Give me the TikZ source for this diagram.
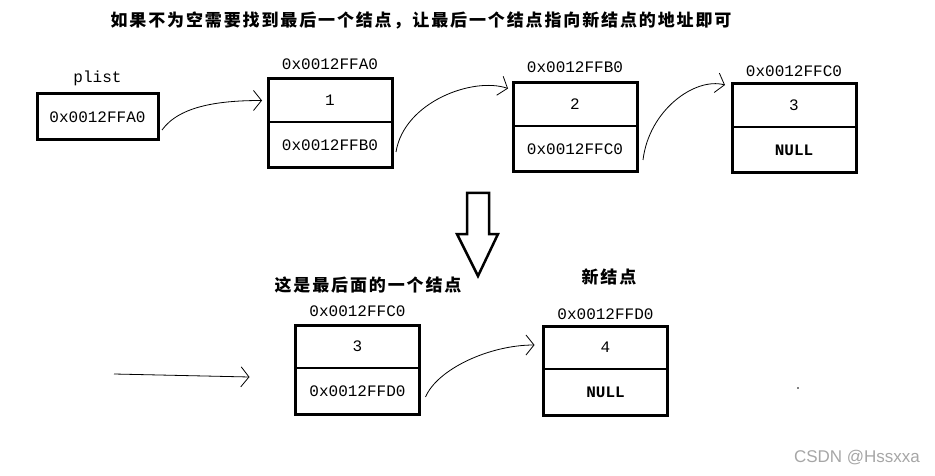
\documentclass[tikz,border=0pt]{standalone}
\usepackage{fontspec}
\setmonofont{Liberation Mono}
\newfontfamily\cjk[LetterSpace=11]{Noto Sans CJK SC}
\newfontfamily\wmfont{Liberation Sans}
\usetikzlibrary{arrows.meta, positioning}

\begin{document}
\begin{tikzpicture}[x=1pt, y=-1pt,
		>={Straight Barb[length=8pt,width=20pt]}, % Pfeilspitzen
		zelle/.style={draw, line width=1.6pt, minimum width=124pt, inner sep=0pt, outer sep=0pt, font=\ttfamily\fontsize{16}{18}\selectfont},
		wert/.style={zelle, minimum height=43pt},
		zeiger/.style={zelle, minimum height=46pt},
		rahmen/.style={line width=3pt},
		adresse/.style={inner sep=1pt, font=\ttfamily\fontsize{16}{18}\selectfont},
		titel/.style={font=\cjk\bfseries\fontsize{17}{20}\selectfont},
		pfeil/.style={->, line width=0.8pt}]
	\useasboundingbox (0,0) rectangle (935,476);
	% Ueberschriften
	\node[titel] (titel) at (421,20) {如果不为空需要找到最后一个结点，让最后一个结点指向新结点的地址即可};
	\node[titel] (hinweis) at (368,285) {这是最后面的一个结点};
	\node[titel] (neu) at (609,277) {新结点};
	% Kopfzeiger
	\node[zelle, line width=3pt, minimum width=121pt, minimum height=46pt] (plist) at (97.5,117) {0x0012FFA0};
	\node[adresse, above=7pt of plist] (pname) {plist};
	% Obere Liste
	\node[wert] (w1) at (330,100.5) {1};
	\node[zeiger, below=0pt of w1] (z1) {0x0012FFB0};
	\node[wert] (w2) at (575,104.5) {2};
	\node[zeiger, below=0pt of w2] (z2) {0x0012FFC0};
	\node[wert] (w3) at (794,105.5) {3};
	\node[zeiger, below=0pt of w3] (z3) {\bfseries NULL};
	\node[adresse, above=8pt of w1] (a1) {0x0012FFA0};
	\node[adresse, above=9pt of w2] (a2) {0x0012FFB0};
	\node[adresse, above=6.5pt of w3] (a3) {0x0012FFC0};
	% Untere Liste: letzter und neuer Knoten
	\node[wert] (w4) at (357.5,346.5) {3};
	\node[zeiger, below=0pt of w4] (z4) {0x0012FFD0};
	\node[wert] (w5) at (605.5,347.5) {4};
	\node[zeiger, below=0pt of w5] (z5) {\bfseries NULL};
	\node[adresse, above=7.5pt of w4] (a4) {0x0012FFC0};
	\node[adresse, above=5.5pt of w5] (a5) {0x0012FFD0};
	% Rahmen
	\foreach \k in {1,...,5}
		\draw[rahmen] (w\k.north west) rectangle (z\k.south east);
	% Verbindungen
	\draw[pfeil] ([xshift=4pt,yshift=-13pt]plist.east) .. controls +(18,-25) and +(-40,0) .. ([xshift=-6pt]w1.west);
	\draw[pfeil] ([xshift=4pt,yshift=-7pt]z1.east) .. controls +(8,-50) and +(-35,-12) .. ([xshift=-5pt,yshift=16pt]w2.west);
	\draw[pfeil] ([xshift=6pt,yshift=-11pt]z2.east) .. controls +(6,-50) and +(-30,-8) .. ([xshift=-7pt,yshift=20.5pt]w3.west);
	\draw[pfeil] ([xshift=6pt,yshift=-6pt]z4.east) .. controls +(12,-28) and +(-45,0) .. ([xshift=-9pt,yshift=2.5pt]w5.west);
	\coordinate (start) at (114,374);
	\draw[pfeil] (start) -- ([xshift=-46pt,yshift=14pt]z4.west);
	% Grosser Pfeil
	\draw[line width=2.5pt, line join=miter] (467,193) -- (489,193) -- (489,234) -- (498,234) -- (478,276) -- (457,234) -- (467,234) -- cycle;
	% Rest
	\fill (798,388) circle (0.8pt);
	\node[font=\wmfont\fontsize{17}{18}\selectfont, text=gray!70] (wasserzeichen) at (857,458) {CSDN @Hssxxa};
\end{tikzpicture}
\end{document}
